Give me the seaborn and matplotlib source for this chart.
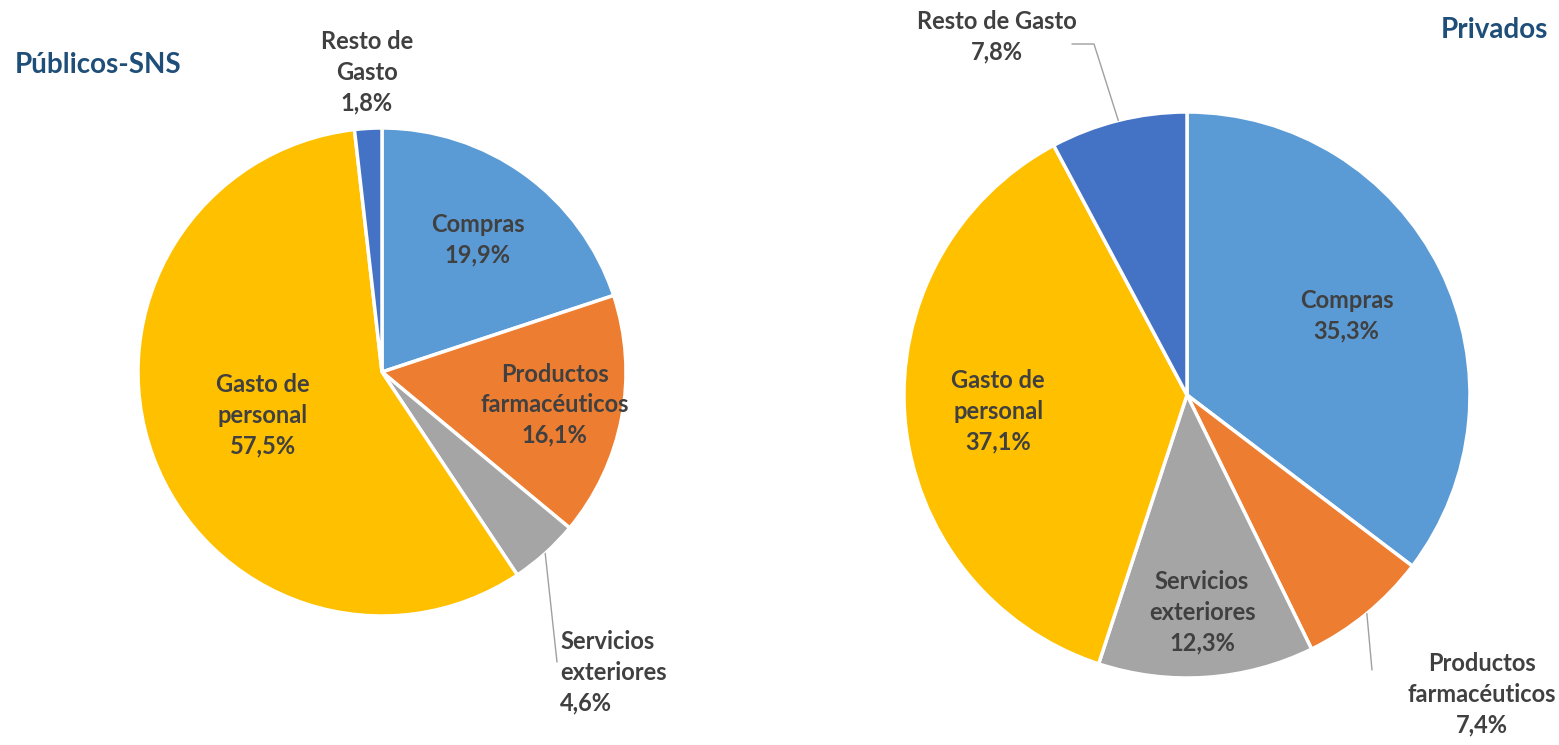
import numpy as np
import matplotlib
matplotlib.use("Agg")
import matplotlib.pyplot as plt
import seaborn as sns

sns.set_style("white")
plt.rcParams['font.family'] = ['Lato', 'DejaVu Sans']

# data
categories = ['Compras', 'Productos\nfarmacéuticos', 'Servicios\nexteriores',
              'Gasto de\npersonal', 'Resto de\nGasto']
publicos = [19.9, 16.1, 4.6, 57.5, 1.8]
privados = [35.3, 7.4, 12.3, 37.1, 7.8]
colors = ['#5B9BD5', '#ED7D31', '#A5A5A5', '#FFC000', '#4472C4']
text_color = '#404040'
title_color = '#1F4E79'

W, H = 1559, 745
fig = plt.figure(figsize=(W / 100, H / 100), dpi=100)
ax = fig.add_axes([0, 0, 1, 1])
ax.set_xlim(0, W)
ax.set_ylim(0, H)
ax.set_aspect('equal')
ax.axis('off')

FS = 17


def fmt(v):
    return f"{v:.1f}%".replace('.', ',')


def draw_pie(values, center, radius, inside, outside):
    wedges, _ = ax.pie(values, colors=colors, startangle=90, counterclock=False,
                       center=center, radius=radius, frame=True,
                       wedgeprops=dict(edgecolor='white', linewidth=2.5))
    for i, w in enumerate(wedges):
        ang = np.deg2rad((w.theta1 + w.theta2) / 2)
        label = categories[i] + '\n' + fmt(values[i])
        if i in inside:
            d = inside[i] * radius
            ax.text(center[0] + d * np.cos(ang), center[1] + d * np.sin(ang), label,
                    ha='center', va='center', fontsize=FS, fontweight='bold',
                    color=text_color, linespacing=1.4)
        else:
            txt, (tx, ty), ha, line = outside[i]
            ax.text(tx, ty, txt + fmt(values[i]), ha=ha, va='center', fontsize=FS,
                    fontweight='bold', color=text_color, linespacing=1.4)
            if line is not None:
                xs = [center[0] + radius * 1.0 * np.cos(ang)] + [p[0] for p in line]
                ys = [center[1] + radius * 1.0 * np.sin(ang)] + [p[1] for p in line]
                ax.plot(xs, ys, color='#A0A0A0', lw=1)


# left pie: Públicos-SNS
draw_pie(publicos, (382, H - 372), 244,
         inside={0: 0.67, 1: 0.72, 3: 0.52},
         outside={2: ('Servicios\nexteriores\n', (560, H - 672), 'left',
                      [(557, H - 662)]),
                  4: ('Resto de\nGasto\n', (367, H - 72), 'center', None)})

# right pie: Privados
draw_pie(privados, (1187, H - 395), 283,
         inside={0: 0.63, 2: 0.77, 3: 0.67},
         outside={1: ('Productos\nfarmacéuticos\n', (1482, H - 694), 'center',
                      [(1372, H - 670)]),
                  4: ('Resto de Gasto\n', (997, H - 37), 'center',
                      [(1094, H - 44), (1072, H - 44)])})

ax.set_xlim(0, W)
ax.set_ylim(0, H)
ax.axis('off')

ax.text(15, H - 65, 'Públicos-SNS', ha='left', va='center', fontsize=20,
        fontweight='bold', color=title_color)
ax.text(1548, H - 30, 'Privados', ha='right', va='center', fontsize=20,
        fontweight='bold', color=title_color)

fig.savefig('out.png', dpi=100)
